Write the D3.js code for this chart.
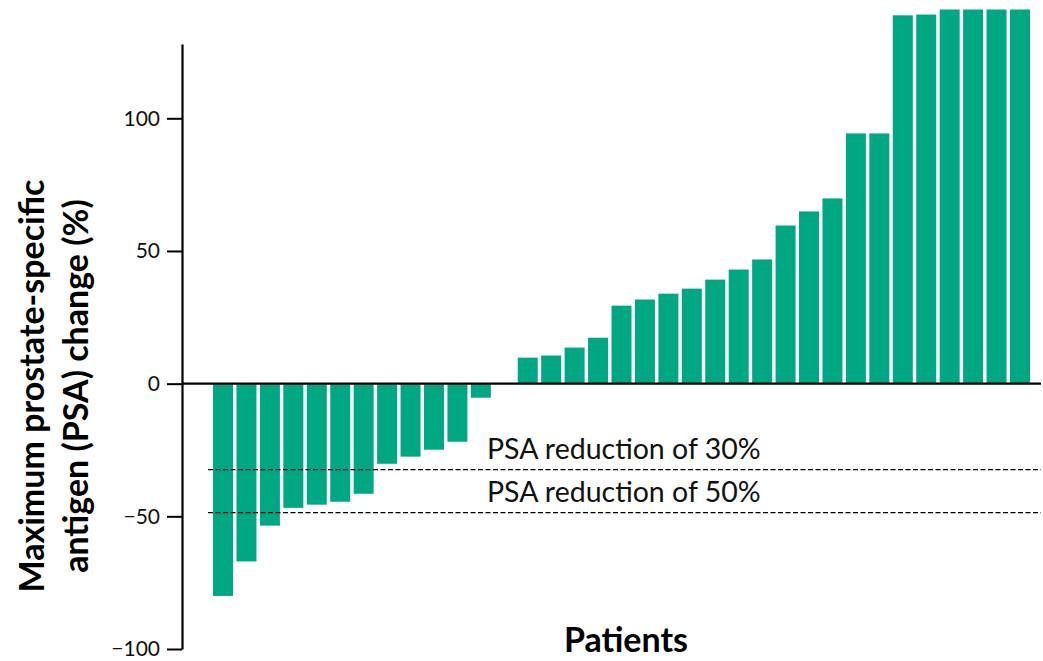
<!DOCTYPE html>
<html>
<head>
<meta charset="utf-8">
<script src="https://cdn.jsdelivr.net/npm/d3@7"></script>
<style>
  body { margin: 0; background: #fff; }
  svg { display: block; }
</style>
</head>
<body>
<div id="chart"></div>
<script>
//data to display
const patients = d3.range(1, 36);
const psaChange = [-80, -67, -53.5, -46.8, -45.6, -44.5, -41.5, -30.2, -27.5, -24.9, -21.9, -5.3, 0,
    9.8, 10.6, 13.6, 17.3, 29.4, 31.7, 33.9, 35.8, 39.2, 43, 46.8, 59.6, 64.9, 69.8, 94.3, 94.3,
    138.8, 139.1, 141, 141, 141, 141];
const yTicks = [-100, -50, 0, 50, 100];
const thresholds = [-32.4, -48.6];
const thresholdLabels = ['PSA reduction of 30%', 'PSA reduction of 50%'];

//Measures
const width = 1043;
const height = 661;

//Colors
const barColor = '#00a783';
const lineColor = '#000000';

//global font
const fontFamily = 'Lato, "Open Sans", sans-serif';

const svg = d3.select('#chart').append('svg')
    .attr('width', width)
    .attr('height', height)
    .style('font-family', fontFamily);

const x = d3.scaleBand()
    .domain(patients)
    .range([211.3, 1031.7])
    .paddingInner(0.147)
    .paddingOuter(0.0735);

const y = d3.scaleLinear()
    .domain([-100, 128])
    .range([649, 44]);

// bars
svg.append('g')
    .selectAll('rect')
    .data(psaChange)
    .join('rect')
    .attr('x', (d, i) => x(patients[i]))
    .attr('width', x.bandwidth())
    .attr('y', d => y(Math.max(0, d)))
    .attr('height', d => Math.abs(y(d) - y(0)))
    .attr('fill', barColor);

// threshold lines
thresholds.forEach((t, i) => {
    svg.append('line')
        .attr('x1', 208)
        .attr('x2', 1041)
        .attr('y1', y(t))
        .attr('y2', y(t))
        .attr('stroke', lineColor)
        .attr('stroke-width', 1.4)
        .attr('stroke-dasharray', '5,2.5');
    svg.append('text')
        .attr('x', 487)
        .attr('y', y(t) - 11)
        .attr('font-size', 28.5)
        .attr('fill', '#111')
        .text(thresholdLabels[i]);
});

// zero line
svg.append('line')
    .attr('x1', 182)
    .attr('x2', 1041)
    .attr('y1', y(0))
    .attr('y2', y(0))
    .attr('stroke', lineColor)
    .attr('stroke-width', 2.2);

// y axis
const yAxis = svg.append('g')
    .attr('transform', 'translate(182,0)')
    .call(d3.axisLeft(y).tickValues(yTicks).tickSize(15).tickSizeOuter(0));
yAxis.select('.domain').attr('stroke', lineColor).attr('stroke-width', 2.2);
yAxis.selectAll('.tick line').attr('stroke', lineColor).attr('stroke-width', 2);
yAxis.selectAll('.tick text')
    .attr('x', -22)
    .attr('font-family', fontFamily)
    .attr('font-size', 21)
    .attr('fill', '#111');

// axis titles
svg.append('text')
    .attr('x', 626)
    .attr('y', 652)
    .attr('text-anchor', 'middle')
    .attr('font-size', 34)
    .attr('font-weight', 'bold')
    .text('Patients');

const yTitle = svg.append('text')
    .attr('transform', 'translate(0,386) rotate(-90)')
    .attr('text-anchor', 'middle')
    .attr('font-size', 34)
    .attr('font-weight', 'bold');
yTitle.append('tspan').attr('x', 0).attr('y', 44).text('Maximum prostate-specific');
yTitle.append('tspan').attr('x', 0).attr('y', 88).text('antigen (PSA) change (%)');
</script>
</body>
</html>
